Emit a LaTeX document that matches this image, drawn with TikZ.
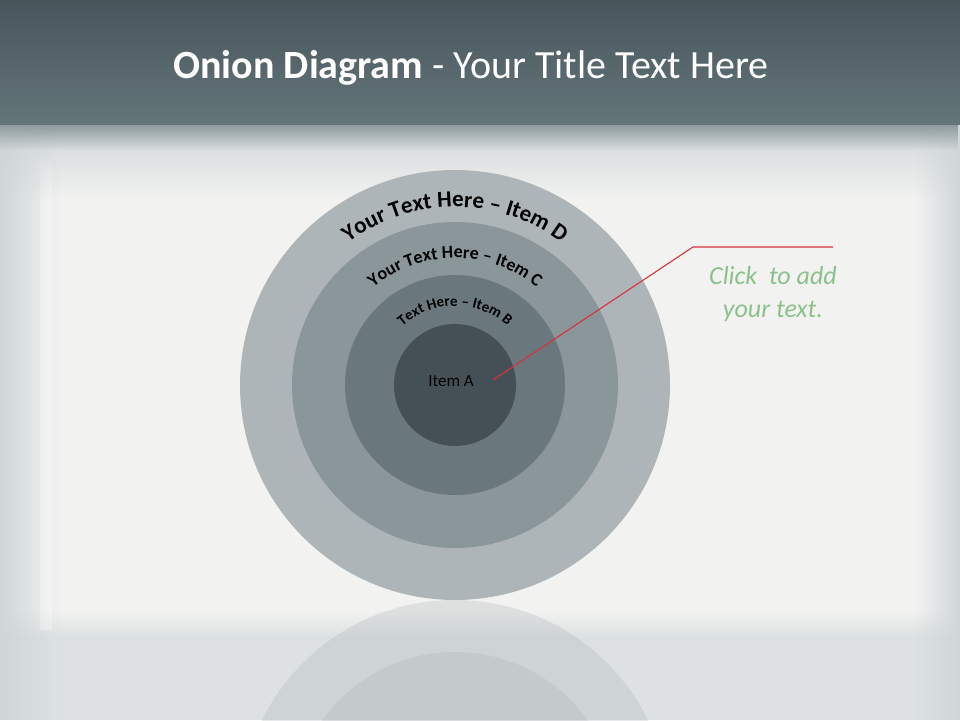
\documentclass[tikz,border=0pt]{standalone}
\usepackage{fontspec}
\setmainfont{Carlito}
\definecolor{bartop}{RGB}{72, 86, 92}
\definecolor{barbot}{RGB}{100, 117, 122}
\definecolor{paper}{RGB}{242, 243, 241}
\definecolor{wall}{RGB}{208, 214, 216}
\definecolor{ringd}{RGB}{174, 181, 184}
\definecolor{ringc}{RGB}{139, 150, 154}
\definecolor{ringb}{RGB}{106, 119, 124}
\definecolor{ringa}{RGB}{68, 80, 85}
\definecolor{callred}{RGB}{214, 50, 62}
\definecolor{note}{RGB}{140, 192, 140}
\usetikzlibrary{calc}
\usetikzlibrary{decorations.text}
\usetikzlibrary{fadings}

\tikzset{
	ring/.style={circle, inner sep=0pt, minimum size=#1},
	arclabel/.style={decorate, decoration={text along path, text align=center, text={#1}}},
}

\begin{document}
\begin{tikzpicture}[x=1pt, y=1pt]
	\useasboundingbox (0,0) rectangle (960,720);
	
	% wall
	\fill[paper] (0,0) rectangle (960,720);
	\fill[wall, path fading=east] (0,0) rectangle (60,600);
	\fill[wall, opacity=0.6] (0,0) rectangle (960,80);
	\fill[wall, path fading=north, opacity=0.7] (0,80) rectangle (960,110);
	\fill[wall, path fading=west] (915,0) rectangle (960,600);
	\fill[white, opacity=0.3] (40,90) rectangle (52,560);
	\fill[wall, path fading=south] (0,520) rectangle (960,595);
	
	% title bar
	\shade[top color=bartop, bottom color=barbot] (0,595) rectangle (960,720);
	\fill[barbot, path fading=south, opacity=0.6] (0,570) rectangle (960,595);
	\node[text=white, font=\fontsize{40}{44}\selectfont] (title) at (471,652)
		{\textbf{Onion Diagram} - Your Title Text Here};
	
	% reflection
	\begin{scope}
		\clip (0,0) rectangle (960,120);
		\fill[ringd, opacity=0.3] (455,-95) circle (215);
		\fill[ringc, opacity=0.15] (455,-95) circle (163);
	\end{scope}
	
	% onion
	\node[ring=430, fill=ringd] (itemD) at (455,335) {};
	\node[ring=326, fill=ringc] (itemC) at (itemD.center) {};
	\node[ring=220, fill=ringb] (itemB) at (itemD.center) {};
	\node[ring=122, fill=ringa] (itemA) at (itemD.center) {};
	\node[text=black, font=\fontsize{17}{20}\selectfont] (labelA) at (451,339) {Item A};
	
	\path[arclabel={|\bfseries\fontsize{23}{26}\selectfont|Your Text Here – Item D}]
		($(itemD.center)+(160:178)$) arc[start angle=160, end angle=20, radius=178];
	\path[arclabel={|\bfseries\fontsize{18}{21}\selectfont|Your Text Here – Item C}]
		($(itemD.center)+(165:127)$) arc[start angle=165, end angle=15, radius=127];
	\path[arclabel={|\bfseries\fontsize{15}{18}\selectfont|Text Here – Item B}]
		($(itemD.center)+(170:79)$) arc[start angle=170, end angle=10, radius=79];
	
	% callout
	\coordinate (tip) at (493,340);
	\coordinate (elbow) at (693,473);
	\coordinate (tail) at (833,473);
	\draw[callred, line width=1.1] (tip) -- (elbow) -- (tail);
	\node[text=note, font=\itshape\fontsize{26}{33}\selectfont, align=center] (clicktext) at (773,426)
		{Click\ \ to add\\your text.};
\end{tikzpicture}
\end{document}
